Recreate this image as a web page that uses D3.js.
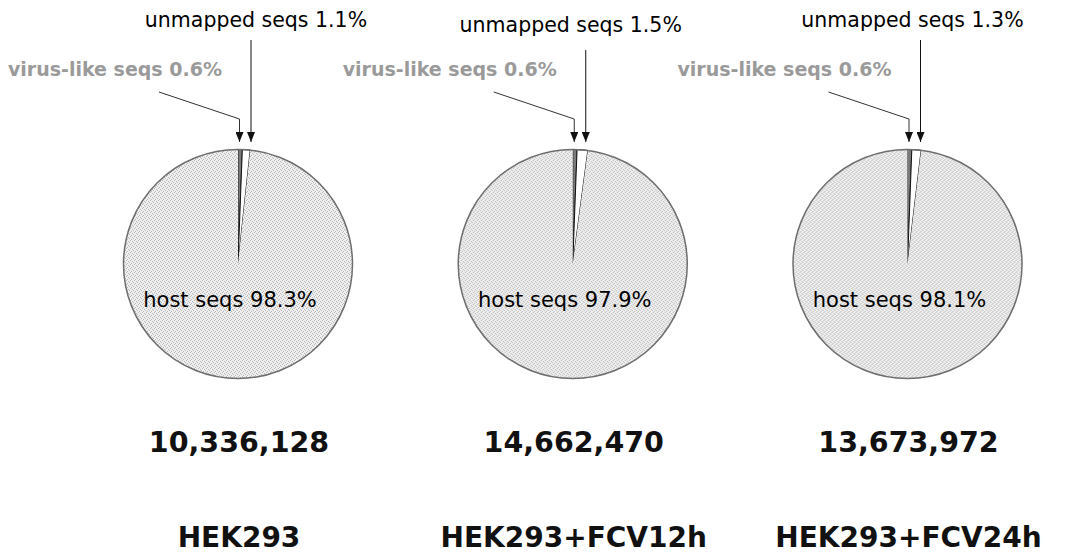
<!DOCTYPE html>
<html>
<head>
<meta charset="utf-8">
<script src="https://cdn.jsdelivr.net/npm/d3@7"></script>
<style>
  body { margin: 0; background: #fff; }
  svg { display: block; }
</style>
</head>
<body>
<svg id="chart"></svg>
<script>
// data
var samples = ["HEK293", "HEK293+FCV12h", "HEK293+FCV24h"];
var readCounts = ["10,336,128", "14,662,470", "13,673,972"];
var virusPct = [0.6, 0.6, 0.6];
var unmappedPct = [1.1, 1.5, 1.3];
var hostPct = [98.3, 97.9, 98.1];
var sliceNames = ["virus-like seqs", "unmapped seqs", "host seqs"];

var width = 1068, height = 556;
var radius = 114.5;
var cy = 264;
var font = "DejaVu Sans, Verdana, sans-serif";

// small per-pie nudges for the top labels (layout only)
var unmappedLabelY = [27, 32, 27];
var unmappedLabelDx = [18, -2, 5];
var unmappedLineTop = [40, 50, 40];

var svg = d3.select("#chart")
    .attr("width", width)
    .attr("height", height);

var x = d3.scalePoint()
    .domain(samples)
    .range([238, 907.5]);

var defs = svg.append("defs");

// stippled grey fill
var pat = defs.append("pattern")
    .attr("id", "stipple")
    .attr("width", 4)
    .attr("height", 4)
    .attr("patternUnits", "userSpaceOnUse");
pat.append("rect").attr("width", 4).attr("height", 4).attr("fill", "#efefef");
[[0, 0], [2, 1], [1, 3], [3, 2]].forEach(function (p) {
    pat.append("rect").attr("x", p[0]).attr("y", p[1])
        .attr("width", 1).attr("height", 1).attr("fill", "#b8b8b8");
});

defs.append("marker")
    .attr("id", "arrow")
    .attr("viewBox", "0 0 10 10")
    .attr("preserveAspectRatio", "none")
    .attr("refX", 10).attr("refY", 5)
    .attr("markerWidth", 10).attr("markerHeight", 8)
    .attr("markerUnits", "userSpaceOnUse")
    .attr("orient", "auto")
    .append("path")
    .attr("d", "M0,0 L10,5 L0,10 Z")
    .attr("fill", "#111");

var pie = d3.pie().sort(null).value(function (d) { return d; });
var arc = d3.arc().innerRadius(0).outerRadius(radius);
var sliceFill = ["#7a7a7a", "#ffffff", "url(#stipple)"];
var sliceStroke = ["#222", "#111", "none"];

samples.forEach(function (s, i) {
    var cx = x(s);
    var g = svg.append("g").attr("transform", "translate(" + cx + "," + cy + ")");
    var arcs = pie([virusPct[i], unmappedPct[i], hostPct[i]]);

    g.selectAll("path")
        .data(arcs)
        .enter().append("path")
        .attr("d", arc)
        .attr("fill", function (d, j) { return sliceFill[j]; })
        .attr("stroke", function (d, j) { return sliceStroke[j]; })
        .attr("stroke-width", 1);

    // outer outline
    g.append("circle")
        .attr("r", radius)
        .attr("fill", "none")
        .attr("stroke", "#6e6e6e")
        .attr("stroke-width", 1.5);

    // host label
    g.append("text")
        .attr("x", -8)
        .attr("y", 307 - cy)
        .attr("text-anchor", "middle")
        .style("font-family", font)
        .style("font-size", "21px")
        .attr("fill", "#000")
        .text(sliceNames[2] + " " + hostPct[i].toFixed(1) + "%");

    // unmapped label + arrow
    svg.append("text")
        .attr("x", cx + unmappedLabelDx[i])
        .attr("y", unmappedLabelY[i])
        .attr("text-anchor", "middle")
        .style("font-family", font)
        .style("font-size", "20.5px")
        .attr("fill", "#000")
        .text(sliceNames[1] + " " + unmappedPct[i].toFixed(1) + "%");

    svg.append("line")
        .attr("x1", cx + 13).attr("y1", unmappedLineTop[i])
        .attr("x2", cx + 13).attr("y2", 142)
        .attr("stroke", "#111")
        .attr("stroke-width", 1)
        .attr("marker-end", "url(#arrow)");

    // virus-like label + bent leader
    svg.append("text")
        .attr("x", cx - 16)
        .attr("y", 76)
        .attr("text-anchor", "end")
        .style("font-family", font)
        .style("font-size", "19px")
        .style("font-weight", "bold")
        .attr("fill", "#9a9a9a")
        .text(sliceNames[0] + " " + virusPct[i].toFixed(1) + "%");

    svg.append("path")
        .attr("d", "M" + (cx - 79) + ",92 L" + (cx + 1.5) + ",119 L" + (cx + 1.5) + ",142")
        .attr("fill", "none")
        .attr("stroke", "#333")
        .attr("stroke-width", 1)
        .attr("marker-end", "url(#arrow)");

    // read count and sample name
    svg.append("text")
        .attr("x", cx + 1)
        .attr("y", 452)
        .attr("text-anchor", "middle")
        .style("font-family", font)
        .style("font-size", "28.5px")
        .style("font-weight", "bold")
        .attr("fill", "#111")
        .text(readCounts[i]);

    svg.append("text")
        .attr("x", cx + 1)
        .attr("y", 547)
        .attr("text-anchor", "middle")
        .style("font-family", font)
        .style("font-size", "28px")
        .style("font-weight", "bold")
        .attr("fill", "#111")
        .text(s);
});
</script>
</body>
</html>
